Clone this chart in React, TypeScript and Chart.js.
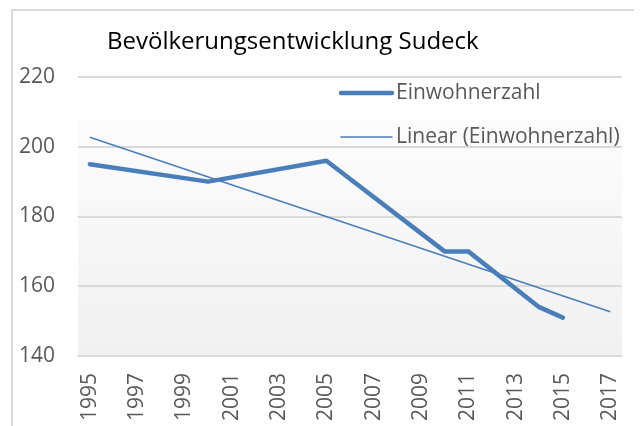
import React, { useEffect, useRef } from 'react';
import { Chart, registerables } from 'chart.js';

Chart.register(...registerables);

const titleText = 'Bevölkerungsentwicklung Sudeck';
const seriesName = 'Einwohnerzahl';
const trendName = 'Linear (Einwohnerzahl)';

const years = [
  '1995', '1996', '1997', '1998', '1999', '2000', '2001', '2002', '2003', '2004', '2005', '2006',
  '2007', '2008', '2009', '2010', '2011', '2012', '2013', '2014', '2015', '2016', '2017',
];

const population = [
  195, null, null, null, null, 190, null, null, null, null, 196, null,
  null, null, null, 170, 170, null, null, 154, 151, null, null,
];

const trend = [
  202.7, null, null, null, null, null, null, null, null, null, null, null,
  null, null, null, null, null, null, null, null, null, null, 152.7,
];

const yMin = 140;
const yMax = 220;
const yStep = 20;

const BLUE = '#4A7EBB';
const TEXT = '#595959';
const GRID = '#d9d9d9';
const FONT = "'Open Sans', 'Noto Sans', sans-serif";

export default function App() {
  const ref = useRef<HTMLCanvasElement | null>(null);

  useEffect(() => {
    if (!ref.current) return;

    const bgPlugin = {
      id: 'bgPlugin',
      beforeDraw(chart: any) {
        const { ctx, chartArea } = chart;
        const { left, right, top, bottom } = chartArea;
        const startY = top + 44;
        ctx.save();
        ctx.fillStyle = '#ffffff';
        ctx.fillRect(left, top, right - left, startY - top);
        const g = ctx.createLinearGradient(0, startY, 0, bottom);
        g.addColorStop(0, '#fcfcfc');
        g.addColorStop(1, '#f1f1f1');
        ctx.fillStyle = g;
        ctx.fillRect(left, startY, right - left, bottom - startY);
        ctx.restore();
      },
    };

    const overlayPlugin = {
      id: 'overlayPlugin',
      afterDraw(chart: any) {
        const { ctx } = chart;
        ctx.save();
        // title
        ctx.fillStyle = '#000000';
        ctx.font = `24px ${FONT}`;
        ctx.textAlign = 'left';
        ctx.textBaseline = 'middle';
        ctx.fillText(titleText, 99, 34);
        // legend
        const items = [
          { text: chart.data.datasets[0].label, ds: chart.data.datasets[0], y: 85 },
          { text: chart.data.datasets[1].label, ds: chart.data.datasets[1], y: 129 },
        ];
        ctx.font = `21px ${FONT}`;
        for (const it of items) {
          ctx.strokeStyle = it.ds.borderColor;
          ctx.lineWidth = it.ds.borderWidth;
          ctx.lineCap = 'round';
          ctx.beginPath();
          ctx.moveTo(333, it.y);
          ctx.lineTo(384, it.y);
          ctx.stroke();
          ctx.fillStyle = TEXT;
          ctx.fillText(it.text, 388, it.y);
        }
        ctx.restore();
      },
    };

    const chart = new Chart(ref.current, {
      type: 'line',
      data: {
        labels: years,
        datasets: [
          {
            label: seriesName,
            data: population,
            borderColor: BLUE,
            backgroundColor: BLUE,
            borderWidth: 4.5,
            pointRadius: 0,
            spanGaps: true,
            tension: 0,
            borderCapStyle: 'round',
            borderJoinStyle: 'round',
          },
          {
            label: trendName,
            data: trend,
            borderColor: BLUE,
            backgroundColor: BLUE,
            borderWidth: 1.5,
            pointRadius: 0,
            spanGaps: true,
            tension: 0,
          },
        ],
      },
      options: {
        responsive: false,
        animation: false,
        layout: { padding: { top: 69, right: 20, left: 0, bottom: 0 } },
        plugins: {
          legend: { display: false },
          title: { display: false },
          tooltip: { enabled: false },
        },
        scales: {
          x: {
            type: 'category',
            offset: true,
            grid: { display: false, drawTicks: false },
            border: { display: false },
            ticks: {
              autoSkip: false,
              maxRotation: 90,
              minRotation: 90,
              padding: 17,
              color: TEXT,
              font: { family: FONT, size: 21 },
              callback: function (this: any, value: any, index: number) {
                return index % 2 === 0 ? this.getLabelForValue(value) : '';
              },
            },
            afterFit(scale: any) {
              scale.height = 70;
              scale.paddingLeft = 0;
              scale.paddingRight = 0;
            },
          },
          y: {
            min: yMin,
            max: yMax,
            grid: { color: GRID, lineWidth: 2, drawTicks: false },
            border: { display: false },
            ticks: {
              stepSize: yStep,
              padding: 23,
              color: TEXT,
              font: { family: FONT, size: 21 },
            },
            afterFit(scale: any) {
              scale.width = 70;
              scale.paddingTop = 0;
              scale.paddingBottom = 0;
            },
          },
        },
      },
      plugins: [bgPlugin, overlayPlugin],
    } as any);

    return () => chart.destroy();
  }, []);

  return (
    <div style={{ position: 'relative', width: 634, height: 418, overflow: 'hidden' }}>
      <div
        style={{
          position: 'absolute',
          left: 3,
          top: 1,
          width: 700,
          height: 500,
          borderLeft: `2px solid ${GRID}`,
          borderTop: `2px solid ${GRID}`,
        }}
      />
      <canvas
        ref={ref}
        width={634}
        height={418}
        style={{ position: 'absolute', left: 0, top: 0, width: 634, height: 418 }}
      />
    </div>
  );
}
